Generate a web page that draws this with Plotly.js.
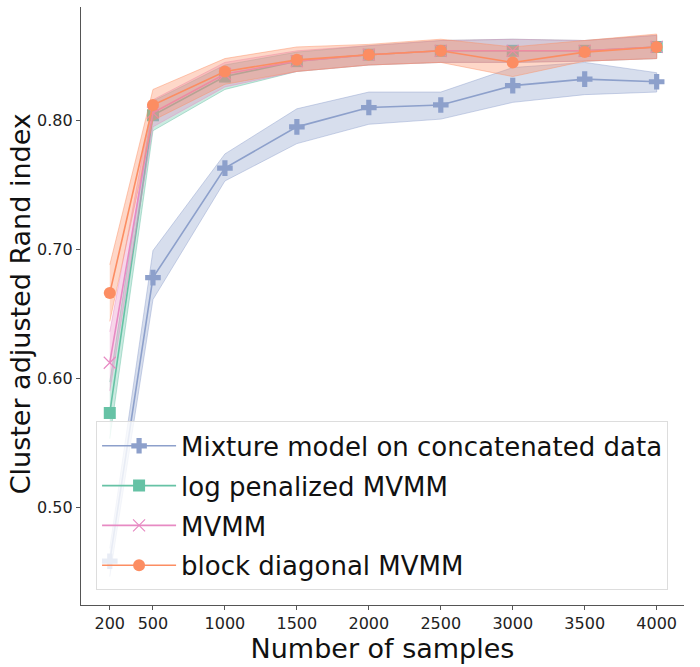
<!DOCTYPE html>
<html>
<head>
<meta charset="utf-8">
<script src="https://cdn.plot.ly/plotly-3.0.1.min.js"></script>
<style>
  html, body { margin: 0; padding: 0; background: #fff; }
  #chart { width: 700px; height: 667px; }
</style>
</head>
<body>
<div id="chart"></div>
<script>
// sample sizes on the x axis
const samples = [200, 500, 1000, 1500, 2000, 2500, 3000, 3500, 4000];

// Mixture model on concatenated data
const mix_mean = [0.458, 0.678, 0.763, 0.795, 0.810, 0.812, 0.827, 0.832, 0.830];
const mix_lo   = [0.446, 0.661, 0.753, 0.782, 0.797, 0.801, 0.814, 0.820, 0.822];
const mix_hi   = [0.468, 0.699, 0.774, 0.809, 0.822, 0.822, 0.841, 0.845, 0.837];

// log penalized MVMM
const logpen_mean = [0.573, 0.804, 0.834, 0.846, 0.851, 0.854, 0.854, 0.854, 0.857];
const logpen_lo   = [0.553, 0.792, 0.824, 0.838, 0.843, 0.845, 0.845, 0.846, 0.848];
const logpen_hi   = [0.597, 0.815, 0.843, 0.853, 0.858, 0.862, 0.863, 0.862, 0.866];

// MVMM
const mvmm_mean = [0.612, 0.806, 0.836, 0.846, 0.851, 0.854, 0.854, 0.854, 0.857];
const mvmm_lo   = [0.590, 0.795, 0.826, 0.838, 0.843, 0.845, 0.845, 0.846, 0.848];
const mvmm_hi   = [0.636, 0.816, 0.845, 0.854, 0.858, 0.862, 0.863, 0.862, 0.866];

// block diagonal MVMM
const bd_mean = [0.666, 0.812, 0.838, 0.847, 0.851, 0.854, 0.845, 0.853, 0.857];
const bd_lo   = [0.644, 0.800, 0.828, 0.838, 0.843, 0.845, 0.834, 0.846, 0.848];
const bd_hi   = [0.688, 0.824, 0.848, 0.857, 0.859, 0.863, 0.857, 0.862, 0.867];

const FONT = "DejaVu Sans, sans-serif";
const AXIS = "#555555";

function rgba(rgb, a) {
	return "rgba(" + rgb.join(",") + "," + a + ")";
}

function band(lo, hi, rgb, group) {
	return {
		type: "scatter",
		x: samples.concat(samples.slice().reverse()),
		y: hi.concat(lo.slice().reverse()),
		fill: "toself",
		fillcolor: rgba(rgb, 0.35),
		line: { color: rgba(rgb, 0.45), width: 1 },
		mode: "lines",
		hoverinfo: "skip",
		legendgroup: group,
		showlegend: false,
	};
}

function series(name, mean, rgb, marker, group) {
	return {
		type: "scatter",
		name: name,
		x: samples,
		y: mean,
		mode: "lines+markers",
		line: { color: rgba(rgb, 1), width: 1.6 },
		marker: marker,
		legendgroup: group,
	};
}

const BLUE = [141, 160, 203];
const GREEN = [102, 194, 165];
const PINK = [231, 138, 195];
const ORANGE = [252, 141, 98];

var data = [
	band(mix_lo, mix_hi, BLUE, "a"),
	series("Mixture model on concatenated data", mix_mean, BLUE,
		{ symbol: "cross", size: 13, color: rgba(BLUE, 1) }, "a"),
	band(logpen_lo, logpen_hi, GREEN, "b"),
	series("log penalized MVMM", logpen_mean, GREEN,
		{ symbol: "square", size: 12, color: rgba(GREEN, 1) }, "b"),
	band(mvmm_lo, mvmm_hi, PINK, "c"),
	series("MVMM", mvmm_mean, PINK,
		{ symbol: "x-thin-open", size: 12, color: rgba(PINK, 1), line: { width: 1.2, color: rgba(PINK, 1) } }, "c"),
	band(bd_lo, bd_hi, ORANGE, "d"),
	series("block diagonal MVMM", bd_mean, ORANGE,
		{ symbol: "circle", size: 12, color: rgba(ORANGE, 1) }, "d"),
];

var layout = {
	width: 700,
	height: 667,
	margin: { l: 81, r: 16, t: 7, b: 62 },
	paper_bgcolor: "#ffffff",
	plot_bgcolor: "#ffffff",
	font: { family: FONT, color: "#111111" },
	showlegend: true,
	legend: {
		x: 0.025,
		y: 0.307,
		xanchor: "left",
		yanchor: "top",
		bgcolor: "rgba(255,255,255,0.8)",
		bordercolor: "#dddddd",
		borderwidth: 1,
		font: { family: FONT, size: 26, color: "#111111" },
		traceorder: "grouped",
		tracegroupgap: 3,
		itemwidth: 74,
	},
	xaxis: {
		range: [0, 4190],
		tickvals: samples,
		ticks: "outside",
		ticklen: 4,
		tickcolor: AXIS,
		tickfont: { size: 16, color: "#222222" },
		showline: true,
		linecolor: AXIS,
		linewidth: 1.2,
		showgrid: false,
		zeroline: false,
		title: { text: "Number of samples", font: { size: 27, color: "#111111" }, standoff: 4 },
	},
	yaxis: {
		range: [0.424, 0.888],
		tickvals: [0.5, 0.6, 0.7, 0.8],
		tickformat: ".2f",
		ticks: "outside",
		ticklen: 4,
		tickcolor: AXIS,
		tickfont: { size: 16, color: "#222222" },
		showline: true,
		linecolor: AXIS,
		linewidth: 1.2,
		showgrid: false,
		zeroline: false,
	},
	// y title placed by hand so it sits close to the tick labels
	annotations: [{
		text: "Cluster adjusted Rand index",
		xref: "paper",
		yref: "paper",
		x: -0.1,
		y: 0.504,
		xanchor: "center",
		yanchor: "middle",
		textangle: -90,
		showarrow: false,
		font: { family: FONT, size: 27, color: "#111111" },
	}],
};

Plotly.newPlot("chart", data, layout, { displayModeBar: false, staticPlot: true });
</script>
</body>
</html>
